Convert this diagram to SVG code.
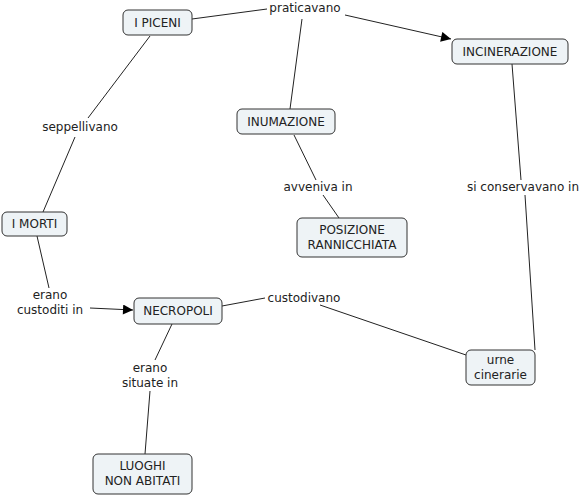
<svg xmlns="http://www.w3.org/2000/svg" width="582" height="496" viewBox="0 0 582 496">
<style>
.n rect{fill:#eef3f6;stroke:#333;stroke-width:1}
text{font-family:"DejaVu Sans",Verdana,sans-serif;font-size:12px;fill:#222;text-anchor:middle}
.c line{stroke:#222;stroke-width:1}
</style>
<defs>
<marker id="ah" viewBox="0 0 10 10" refX="10" refY="5" markerWidth="12" markerHeight="10" markerUnits="userSpaceOnUse" orient="auto"><path d="M0,0L10,5L0,10z" fill="#000"/></marker>
</defs>
<rect width="582" height="496" fill="#fff"/>
<g class="c">
<line x1="192" y1="19" x2="267" y2="9"/>
<line x1="302" y1="19" x2="290" y2="109"/>
<line x1="345" y1="15" x2="451" y2="39" marker-end="url(#ah)"/>
<line x1="150" y1="36" x2="88" y2="118"/>
<line x1="75" y1="137" x2="43" y2="212"/>
<line x1="294" y1="135" x2="316" y2="180"/>
<line x1="323" y1="195" x2="339" y2="218"/>
<line x1="512" y1="64" x2="521" y2="180"/>
<line x1="525" y1="195" x2="535" y2="350"/>
<line x1="37" y1="236" x2="49" y2="288"/>
<line x1="90" y1="308" x2="133" y2="310" marker-end="url(#ah)"/>
<line x1="222" y1="306" x2="265" y2="298"/>
<line x1="320" y1="305" x2="466" y2="355"/>
<line x1="172" y1="324" x2="155" y2="360"/>
<line x1="150" y1="391" x2="145" y2="454"/>
</g>
<g id="lbl-praticavano"><text x="305" y="12">praticavano</text></g>
<g id="lbl-seppellivano"><text x="80" y="131">seppellivano</text></g>
<g id="lbl-avveniva"><text x="318" y="191">avveniva in</text></g>
<g id="lbl-conservavano"><text x="523" y="191">si conservavano in</text></g>
<g id="lbl-custoditi"><text x="50" y="299">erano</text><text x="50" y="314">custoditi in</text></g>
<g id="lbl-custodivano"><text x="304" y="302">custodivano</text></g>
<g id="lbl-situate"><text x="150" y="372">erano</text><text x="150" y="387">situate in</text></g>
<g id="n-piceni" class="n"><rect x="123" y="10" width="69" height="25" rx="5"/><text x="157.5" y="26.5">I PICENI</text></g>
<g id="n-incinerazione" class="n"><rect x="452" y="39" width="116" height="25" rx="5"/><text x="510" y="55.5">INCINERAZIONE</text></g>
<g id="n-inumazione" class="n"><rect x="237" y="109" width="98" height="25" rx="5"/><text x="286" y="125.5">INUMAZIONE</text></g>
<g id="n-posizione" class="n"><rect x="297" y="218" width="110" height="39" rx="5"/><text x="352" y="234">POSIZIONE</text><text x="352" y="249">RANNICCHIATA</text></g>
<g id="n-morti" class="n"><rect x="2" y="212" width="65" height="24" rx="5"/><text x="34.5" y="228">I MORTI</text></g>
<g id="n-necropoli" class="n"><rect x="134" y="298" width="88" height="26" rx="5"/><text x="178" y="315">NECROPOLI</text></g>
<g id="n-urne" class="n"><rect x="466" y="350" width="69" height="35" rx="5"/><text x="500.5" y="364">urne</text><text x="500.5" y="379">cinerarie</text></g>
<g id="n-luoghi" class="n"><rect x="93" y="454" width="99" height="40" rx="5"/><text x="142.5" y="470">LUOGHI</text><text x="142.5" y="485">NON ABITATI</text></g>
</svg>
